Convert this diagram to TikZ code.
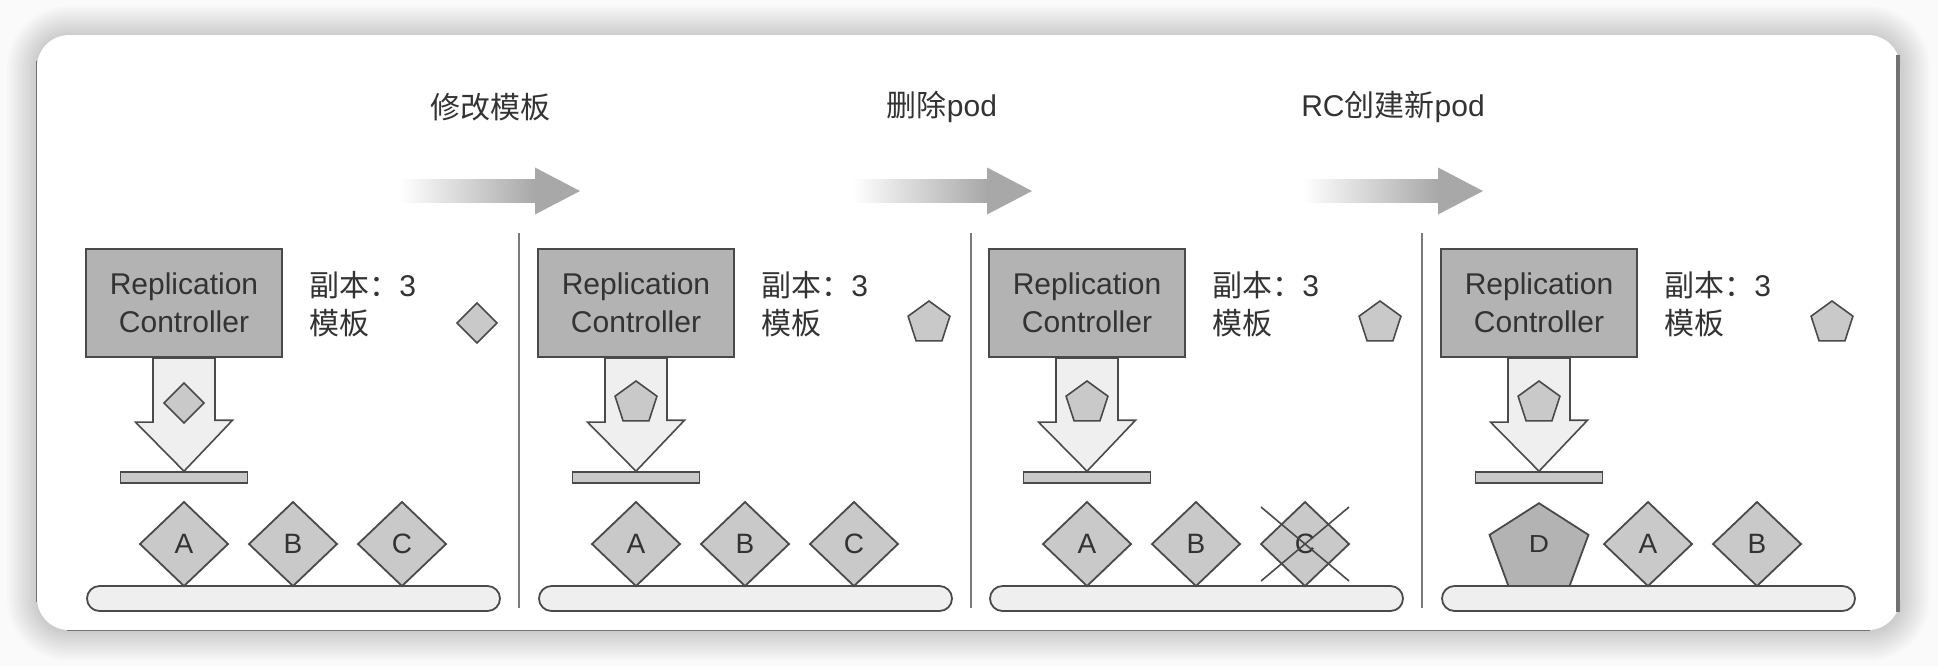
\documentclass[tikz,border=0pt]{standalone}
\usepackage{fontspec}
\setmainfont{Liberation Sans}
\newfontfamily\cjk{Noto Sans CJK SC}
\usetikzlibrary{shapes.geometric}
\definecolor{bggray}{HTML}{FAFAFA}
\definecolor{textgray}{HTML}{333333}
\definecolor{linegray}{HTML}{4A4A4A}
\definecolor{rcgray}{HTML}{B3B3B3}
\definecolor{podgray}{HTML}{C9C9C9}
\definecolor{arrgray}{HTML}{EFEFEF}
\definecolor{sepgray}{HTML}{7A7A7A}
\definecolor{flowgray}{HTML}{A8A8A8}
\definecolor{edgegray}{HTML}{727272}

\begin{document}
\begin{tikzpicture}[x=0.5pt,y=-0.5pt,
 font=\fontsize{15pt}{19pt}\selectfont,
 card/.style={fill=white,rounded corners=16pt,minimum width=931.5pt,minimum height=297.5pt,inner sep=0},
 rc/.style={draw=linegray,line width=1.1pt,fill=rcgray,text=textgray,align=center,minimum width=98pt,minimum height=54pt,inner sep=0},
 info/.style={anchor=west,align=left,text=textgray,inner sep=0},
 tpl/.style={draw=linegray,line width=0.8pt,fill=podgray,diamond,minimum width=20pt,minimum height=20pt,inner sep=0,outer sep=0},
 tplp/.style={draw=linegray,line width=0.8pt,fill=podgray,regular polygon,regular polygon sides=5,minimum size=22pt,inner sep=0,outer sep=0},
 fatarr/.style={draw=linegray,line width=0.8pt,fill=arrgray},
 plat/.style={draw=linegray,line width=0.8pt,fill=podgray,minimum width=63.5pt,minimum height=5.5pt,inner sep=0},
 pod/.style={draw=linegray,line width=0.9pt,fill=podgray,diamond,minimum width=44pt,minimum height=42pt,inner sep=0,outer sep=0,
  anchor=south,text=textgray,font=\fontsize{14pt}{14pt}\selectfont},
 podd/.style={draw=linegray,line width=0.9pt,fill=rcgray,regular polygon,regular polygon sides=5,minimum size=52pt,inner sep=0,outer sep=0,
  yscale=0.88,transform shape,anchor=side 3,text=textgray,font=\fontsize{14pt}{14pt}\selectfont},
 shelf/.style={draw=linegray,line width=0.9pt,fill=arrgray,rounded corners=6.25pt,minimum width=206.5pt,minimum height=12.5pt,inner sep=0},
 sep/.style={draw=sepgray,line width=1pt},
 cross/.style={draw=linegray,line width=0.8pt},
 steplbl/.style={text=textgray}]
\useasboundingbox (0,0) rectangle (1938,666);
\fill[bggray] (0,0) rectangle (1938,666);
% soft shadow round the card
\foreach \d [evaluate=\d as \r using 16+\d] in {1,...,15}
  \fill[black,opacity=0.011,rounded corners=\r pt] ({37-2*\d},{36-2*\d}) rectangle ({1900+2*\d},{631+2*\d});
\node[card] (card) at (968.5,332.5) {};
\draw[edgegray,line width=0.8pt] ([yshift=-13pt]card.north west) -- ([yshift=14pt]card.south west);
\draw[edgegray,line width=0.8pt] ([xshift=15pt]card.south west) -- ([xshift=-15pt]card.south east);
\draw[edgegray,line width=2pt] ([xshift=-1pt,yshift=-10pt]card.north east) -- ([xshift=-1pt,yshift=9pt]card.south east);

% steps on top
\coordinate (f1) at (400,191); \coordinate (h1) at (535,191);
\coordinate (f2) at (852,191); \coordinate (h2) at (987,191);
\coordinate (f3) at (1303,191); \coordinate (h3) at (1438,191);
\shade[left color=white,right color=flowgray] ([yshift=5.75pt]f1) rectangle ([yshift=-5.75pt]h1);
\fill[flowgray] ([yshift=11.75pt]h1) -- ([xshift=22.5pt]h1) -- ([yshift=-11.75pt]h1) -- cycle;
\shade[left color=white,right color=flowgray] ([yshift=5.75pt]f2) rectangle ([yshift=-5.75pt]h2);
\fill[flowgray] ([yshift=11.75pt]h2) -- ([xshift=22.5pt]h2) -- ([yshift=-11.75pt]h2) -- cycle;
\shade[left color=white,right color=flowgray] ([yshift=5.75pt]f3) rectangle ([yshift=-5.75pt]h3);
\fill[flowgray] ([yshift=11.75pt]h3) -- ([xshift=22.5pt]h3) -- ([yshift=-11.75pt]h3) -- cycle;
\node[steplbl] (s1) at (490,107) {{\cjk 修改模板}};
\node[steplbl] (s2) at (942,107) {{\cjk 删除}pod};
\node[steplbl] (s3) at (1393,107) {RC{\cjk 创建新}pod};

% panel 1
\node[rc] (rc1) at (184,303) {Replication\\Controller};
\node[info] (info1) at (309,304) {{\cjk 副本：}3\\{\cjk 模板}};
\node[tpl] (tpl1) at (477,323) {};
\node[plat] (plat1) at (184,477.5) {};
\draw[fatarr] ([xshift=-15.5pt]rc1.south) -- ++(0,64) -- ++(-17.5,0) -- (plat1.north) -- ++(48.5,-51) -- ++(-17.5,0) -- ([xshift=15.5pt]rc1.south) -- cycle;
\node[tpl] (in1) at (184,403) {};
\node[shelf] (shelf1) at (293.5,598.5) {};
\node[pod] (a1) at (184,586) {A};
\node[pod] (b1) at (293,586) {B};
\node[pod] (c1) at (402,586) {C};
\draw[sep] (519,233) -- (519,608);

% panel 2
\node[rc] (rc2) at (636,303) {Replication\\Controller};
\node[info] (info2) at (761,304) {{\cjk 副本：}3\\{\cjk 模板}};
\node[tplp] (tpl2) at (929,323) {};
\node[plat] (plat2) at (636,477.5) {};
\draw[fatarr] ([xshift=-15.5pt]rc2.south) -- ++(0,64) -- ++(-17.5,0) -- (plat2.north) -- ++(48.5,-51) -- ++(-17.5,0) -- ([xshift=15.5pt]rc2.south) -- cycle;
\node[tplp] (in2) at (636,403) {};
\node[shelf] (shelf2) at (745.5,598.5) {};
\node[pod] (a2) at (636,586) {A};
\node[pod] (b2) at (745,586) {B};
\node[pod] (c2) at (854,586) {C};
\draw[sep] (971,233) -- (971,608);

% panel 3
\node[rc] (rc3) at (1087,303) {Replication\\Controller};
\node[info] (info3) at (1212,304) {{\cjk 副本：}3\\{\cjk 模板}};
\node[tplp] (tpl3) at (1380,323) {};
\node[plat] (plat3) at (1087,477.5) {};
\draw[fatarr] ([xshift=-15.5pt]rc3.south) -- ++(0,64) -- ++(-17.5,0) -- (plat3.north) -- ++(48.5,-51) -- ++(-17.5,0) -- ([xshift=15.5pt]rc3.south) -- cycle;
\node[tplp] (in3) at (1087,403) {};
\node[shelf] (shelf3) at (1196.5,598.5) {};
\node[pod] (a3) at (1087,586) {A};
\node[pod] (b3) at (1196,586) {B};
\node[pod] (c3) at (1305,586) {C};
\draw[cross] ([shift={(-44,-37)}]c3.center) -- ([shift={(44,37)}]c3.center);
\draw[cross] ([shift={(-44,37)}]c3.center) -- ([shift={(44,-37)}]c3.center);
\draw[sep] (1422,233) -- (1422,608);

% panel 4
\node[rc] (rc4) at (1539,303) {Replication\\Controller};
\node[info] (info4) at (1664,304) {{\cjk 副本：}3\\{\cjk 模板}};
\node[tplp] (tpl4) at (1832,323) {};
\node[plat] (plat4) at (1539,477.5) {};
\draw[fatarr] ([xshift=-15.5pt]rc4.south) -- ++(0,64) -- ++(-17.5,0) -- (plat4.north) -- ++(48.5,-51) -- ++(-17.5,0) -- ([xshift=15.5pt]rc4.south) -- cycle;
\node[tplp] (in4) at (1539,403) {};
\node[shelf] (shelf4) at (1648.5,598.5) {};
\node[podd] (d4) at (1539,586) {\raisebox{6pt}{D}};
\node[pod] (a4) at (1648,586) {A};
\node[pod] (b4) at (1757,586) {B};
\end{tikzpicture}
\end{document}
